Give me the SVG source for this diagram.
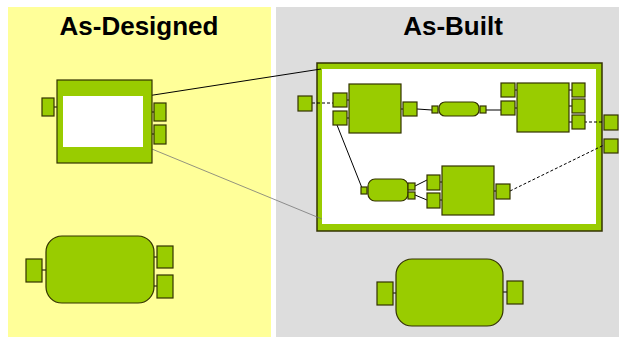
<svg xmlns="http://www.w3.org/2000/svg" width="619" height="337" viewBox="0 0 619 337">
<style>
.g{fill:#99CC00;stroke:#333300;stroke-width:1.2}
.t{font-family:"Liberation Sans",Arial,sans-serif;font-weight:bold;font-size:26px;fill:#000;text-anchor:middle}
.c{stroke:#000;stroke-width:1;fill:none}
.d{stroke:#000;stroke-width:1;fill:none;stroke-dasharray:3,2}
</style>
<rect x="0" y="0" width="619" height="337" fill="#fff"/>
<rect x="8" y="7" width="263" height="330" fill="#FFFF99"/>
<rect x="276" y="7" width="343" height="330" fill="#DDDDDD"/>
<text class="t" x="139" y="35">As-Designed</text>
<text class="t" x="453" y="35">As-Built</text>

<g id="built-container">
<rect x="317" y="63" width="285" height="168" fill="#99CC00" stroke="#333300" stroke-width="1.5"/>
<rect x="322" y="69" width="274" height="155" fill="#fff"/>
</g>

<g id="connectors">
<line class="c" x1="147" y1="96" x2="321" y2="69" stroke-width="1.2"/>
<line x1="147" y1="147" x2="322" y2="219" stroke="#777" stroke-width="0.8"/>
<line class="c" x1="54" y1="107" x2="57" y2="107"/>
<line class="c" x1="152" y1="112" x2="154" y2="112"/>
<line class="c" x1="152" y1="134" x2="154" y2="134"/>
<line class="d" x1="312" y1="103" x2="333" y2="103"/>
<line class="c" x1="347" y1="100" x2="349" y2="100"/>
<line class="c" x1="347" y1="118" x2="349" y2="118"/>
<line class="c" x1="401" y1="109" x2="403" y2="109"/>
<line class="c" x1="417" y1="109" x2="432" y2="110"/>
<line class="c" x1="486" y1="110" x2="501" y2="110"/>
<line class="c" x1="515" y1="90" x2="517" y2="90"/>
<line class="c" x1="515" y1="108" x2="517" y2="108"/>
<line class="c" x1="569" y1="90" x2="572" y2="90"/>
<line class="c" x1="569" y1="106" x2="572" y2="106"/>
<line class="d" x1="569" y1="122" x2="604" y2="122"/>
<line class="c" x1="337" y1="125" x2="362" y2="188"/>
<line class="c" x1="415" y1="186" x2="427" y2="180"/>
<line class="c" x1="415" y1="195" x2="427" y2="200"/>
<line class="c" x1="440" y1="182" x2="442" y2="182"/>
<line class="c" x1="440" y1="200" x2="442" y2="200"/>
<line class="c" x1="494" y1="191" x2="496" y2="191"/>
<line class="d" x1="510" y1="191" x2="604" y2="145"/>
<line class="c" x1="42" y1="270" x2="46" y2="270"/>
<line class="c" x1="154" y1="257" x2="157" y2="257"/>
<line class="c" x1="154" y1="286" x2="157" y2="286"/>
<line class="c" x1="393" y1="293" x2="396" y2="293"/>
<line class="c" x1="503" y1="292" x2="507" y2="292"/>
</g>

<g id="designed-block">
<rect class="g" x="57" y="80" width="95" height="83"/>
<rect x="63" y="96" width="80" height="51" fill="#fff"/>
<rect class="g" x="42" y="98" width="12" height="18"/>
<rect class="g" x="154" y="103" width="12" height="18"/>
<rect class="g" x="154" y="125" width="12" height="19"/>
</g>

<g id="designed-pill">
<rect class="g" x="46" y="236" width="108" height="67" rx="16"/>
<rect class="g" x="26" y="259" width="16" height="23"/>
<rect class="g" x="157" y="246" width="16" height="22"/>
<rect class="g" x="157" y="275" width="16" height="23"/>
</g>

<g id="port-in"><rect class="g" x="298" y="96" width="14" height="15"/></g>
<g id="port-out1"><rect class="g" x="604" y="115" width="14" height="15"/></g>
<g id="port-out2"><rect class="g" x="604" y="139" width="14" height="14"/></g>

<g id="block-a">
<rect class="g" x="349" y="84" width="52" height="49"/>
<rect class="g" x="333" y="93" width="14" height="14"/>
<rect class="g" x="333" y="111" width="14" height="14"/>
<rect class="g" x="403" y="102" width="14" height="14"/>
</g>

<g id="pill-a">
<rect class="g" x="439" y="102" width="40" height="14" rx="6"/>
<rect class="g" x="432" y="106" width="6" height="7"/>
<rect class="g" x="480" y="106" width="6" height="7"/>
</g>

<g id="block-b">
<rect class="g" x="517" y="83" width="52" height="49"/>
<rect class="g" x="501" y="83" width="14" height="14"/>
<rect class="g" x="501" y="101" width="14" height="14"/>
<rect class="g" x="572" y="83" width="13" height="14"/>
<rect class="g" x="572" y="99" width="13" height="14"/>
<rect class="g" x="572" y="115" width="13" height="14"/>
</g>

<g id="pill-c">
<rect class="g" x="368" y="179" width="40" height="22" rx="7"/>
<rect class="g" x="361" y="187" width="6" height="7"/>
<rect class="g" x="408" y="183" width="7" height="7"/>
<rect class="g" x="408" y="192" width="7" height="7"/>
</g>

<g id="block-d">
<rect class="g" x="442" y="166" width="52" height="49"/>
<rect class="g" x="427" y="175" width="13" height="15"/>
<rect class="g" x="427" y="193" width="13" height="15"/>
<rect class="g" x="496" y="184" width="14" height="15"/>
</g>

<g id="built-pill">
<rect class="g" x="396" y="259" width="107" height="67" rx="16"/>
<rect class="g" x="377" y="282" width="16" height="23"/>
<rect class="g" x="507" y="281" width="16" height="23"/>
</g>
</svg>
